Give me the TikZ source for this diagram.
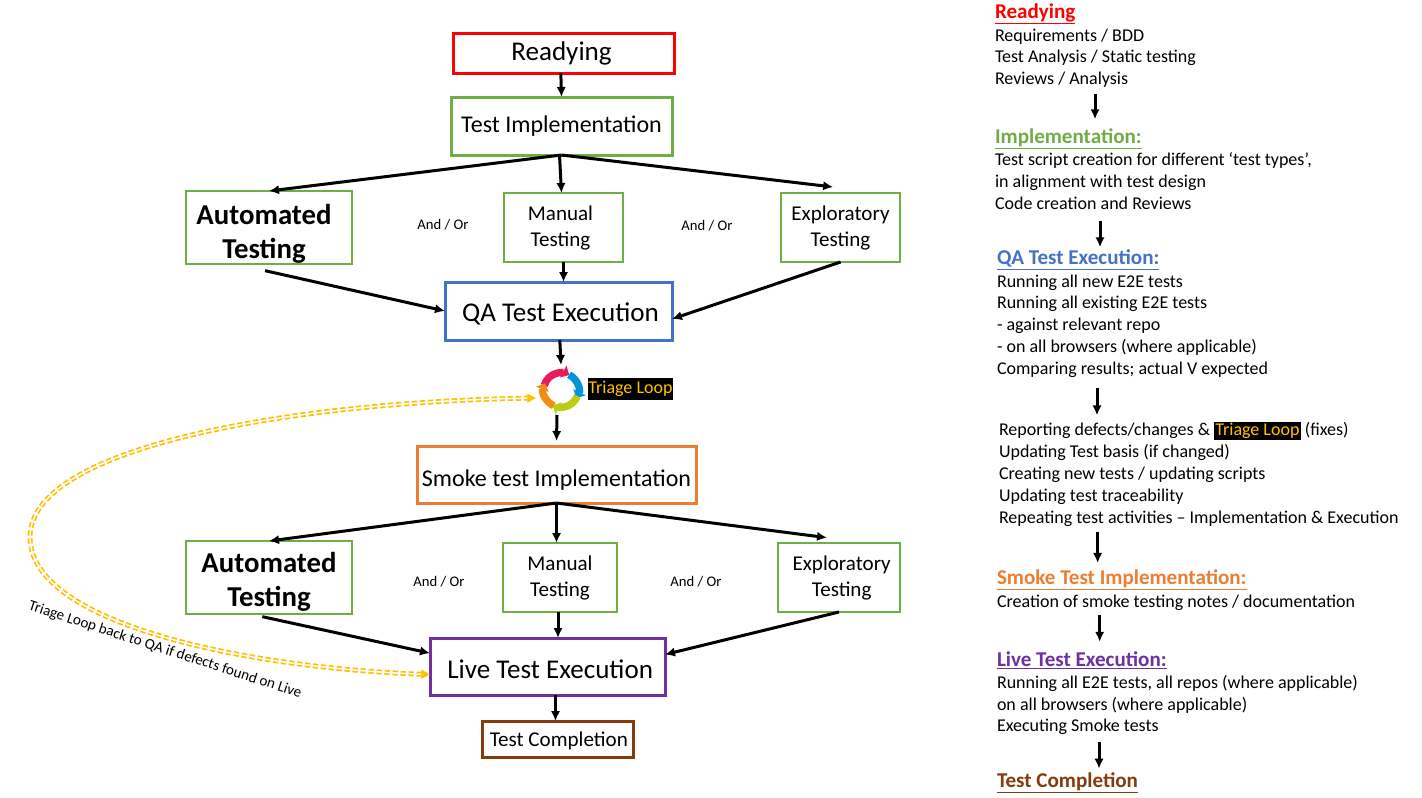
\documentclass[tikz,border=0pt]{standalone}
\usepackage{fontspec}
\setmainfont{Carlito}
\usepackage{tikz}
\usetikzlibrary{arrows.meta,positioning,calc}
\usepackage{xcolor}
\definecolor{StageRed}{RGB}{255,0,0}
\definecolor{StageGreen}{RGB}{112,173,71}
\definecolor{StageBlue}{RGB}{68,114,196}
\definecolor{StageOrange}{RGB}{237,125,49}
\definecolor{StagePurple}{RGB}{112,48,160}
\definecolor{StageBrown}{RGB}{132,60,12}
\definecolor{LoopGold}{RGB}{255,192,0}
\definecolor{RingRed}{RGB}{232,28,88}
\definecolor{RingBlue}{RGB}{0,150,214}
\definecolor{RingLime}{RGB}{186,204,24}
\definecolor{RingOrange}{RGB}{243,140,20}
\newcommand{\FontBig}{\fontsize{20.3}{24}\selectfont}
\newcommand{\FontWide}{\fontsize{18}{24}\selectfont}
\newcommand{\FontMid}{\fontsize{15.8}{19.5}\selectfont}
\newcommand{\FontList}{\fontsize{13.5}{16.4}\selectfont}
\newcommand{\LoopMark}{{\setlength{\fboxsep}{1pt}\colorbox{black}{\textcolor{LoopGold}{Triage Loop}}}}
\newcommand{\StageHead}[2]{{\fontsize{15.8}{18}\selectfont\bfseries\textcolor{#1}{\underline{#2}}}}

\begin{document}
\begin{tikzpicture}[x=.75pt,y=-.75pt,>={Latex[length=7.5pt,width=7pt]},
 flow/.style={->,line width=2.25pt},
 stagebox/.style={draw,line width=2.25pt,inner sep=1pt,outer sep=0pt,align=center,font=\FontBig},
 typebox/.style={draw=StageGreen,line width=1.5pt,inner sep=1pt,outer sep=0pt,align=center,font=\FontMid,minimum height=51.75pt},
 autobox/.style={typebox,font=\fontsize{21.6}{25.5}\selectfont\bfseries,minimum width=124.5pt,minimum height=54.75pt,text depth=0pt},
 choice/.style={font=\fontsize{11}{12}\selectfont},
 notes/.style={anchor=north west,inner sep=0pt,outer sep=0pt,align=left,font=\FontList},
 head/.style={anchor=west,inner sep=0pt,outer sep=0pt},
 loopline/.style={<->,>={Triangle[length=6.5pt,width=6.5pt]},draw=LoopGold,line width=1.3pt,double=white,double distance=1.1pt,dash pattern=on 4pt off 2pt}]
\useasboundingbox (0,0) rectangle (1422,797);
\node[stagebox,draw=StageRed,minimum width=165.75pt,minimum height=30pt] (ready) at (563.5,53) {Readying\hspace*{3pt}};
\node[stagebox,draw=StageGreen,minimum width=165.75pt,minimum height=43.5pt,font=\FontWide] (impl) at (561.5,126) {Test Implementation};
\node[autobox] (auto) at (269,227.5) {\rule{0pt}{21pt}Automated\hspace*{7.5pt}\\Testing\hspace*{7.5pt}};
\node[typebox,minimum width=89.25pt] (manual) at (563.5,227.5) {Manual\hspace*{4.5pt}\\Testing\hspace*{4.5pt}};
\node[typebox,minimum width=89.25pt] (explore) at (840.5,227.5) {Exploratory\\Testing};
\node[choice] (andor) at (443,225) {And / Or};
\node[choice] (andorb) at (707,226) {And / Or};
\node[stagebox,draw=StageBlue,minimum width=170.25pt,minimum height=43.5pt,text depth=0pt,text height=16pt] (qa) at (558.5,311) {\hspace*{3pt}QA Test Execution};
\node[minimum size=37.5pt,inner sep=0pt,outer sep=0pt] (triage) at (561,390) {};
\draw[line width=5.5pt,color=RingRed,-{Triangle[length=5pt,width=10pt]}] ([shift={(165:13pt)}]triage.center) arc[start angle=165,end angle=62,radius=13pt];
\draw[line width=5.5pt,color=RingBlue,-{Triangle[length=5pt,width=10pt]}] ([shift={(62:13pt)}]triage.center) arc[start angle=62,end angle=-28,radius=13pt];
\draw[line width=5.5pt,color=RingLime,-{Triangle[length=5pt,width=10pt]}] ([shift={(-20:13pt)}]triage.center) arc[start angle=-20,end angle=-118,radius=13pt];
\draw[line width=5.5pt,color=RingOrange,-{Triangle[length=5pt,width=10pt]}] ([shift={(-115:13pt)}]triage.center) arc[start angle=-115,end angle=-203,radius=13pt];
\node[fill=black,text=LoopGold,font=\FontList,inner sep=0pt,minimum width=63.75pt,minimum height=16.5pt] (triagelabel) at (630.5,389) {Triage Loop};
\node[stagebox,draw=StageOrange,minimum width=209.25pt,minimum height=42.75pt,font=\FontWide,text depth=0pt,text height=17.5pt] (smoke) at (556.5,474.5) {Smoke test Implementation};
\node[autobox] (autob) at (269,577.5) {\rule{0pt}{18pt}Automated\\Testing};
\node[typebox,minimum width=85.5pt] (manualb) at (560,577.5) {Manual\\Testing};
\node[typebox,minimum width=91.5pt] (exploreb) at (839,577.5) {\hspace*{4pt}Exploratory\\\hspace*{4pt}Testing};
\node[choice] (andorc) at (439,582) {And / Or};
\node[choice] (andord) at (696,582) {And / Or};
\node[stagebox,draw=StagePurple,minimum width=176.25pt,minimum height=42.75pt,text depth=0pt,text height=18pt] (live) at (547.5,666.5) {\hspace*{4pt}Live Test Execution};
\node[stagebox,draw=StageBrown,minimum width=113.25pt,minimum height=27pt,font=\FontMid,text depth=0pt] (done) at (557.5,739) {\hspace*{2pt}Test Completion};
\draw[flow] ([xshift=-2pt]ready.south) -- (impl.north);
\draw[flow] (impl.south) -- (auto.north);
\draw[flow] ([xshift=-1.5pt]impl.south) -- (manual.north -| impl.south);
\draw[flow] (impl.south) -- ([xshift=-5.5pt,yshift=4.5pt]explore.north);
\draw[flow] (manual.south) -- (manual.south |- qa.north);
\draw[flow] ([xshift=-3pt,yshift=-5pt]auto.south) -- (qa.west);
\draw[flow] (explore.south) -- ([yshift=-6pt]qa.east);
\draw[flow] ([xshift=1pt]qa.south) -- (triage.north);
\draw[flow] ([xshift=-3pt]triage.south) -- ([yshift=3.75pt]smoke.north);
\draw[flow] (smoke.south) -- (autob.north);
\draw[flow] (smoke.south) -- (manualb.north -| smoke.south);
\draw[flow] (smoke.south) -- ([xshift=-9pt,yshift=4pt]exploreb.north);
\draw[flow] ([xshift=-5pt,yshift=-2pt]autob.south) -- ([yshift=10pt]live.west);
\draw[flow] ([xshift=-1.5pt]manualb.south) -- ([xshift=-1.5pt]manualb.south |- live.north);
\draw[flow] (exploreb.south) -- ([yshift=9pt]live.east);
\draw[flow] ([xshift=6pt]live.south) -- ([xshift=6pt]live.south |- done.north);
\draw[loopline] ([yshift=-6pt]live.west) .. controls (250,668) and (30,625) .. (30,537) .. controls (30,445) and (300,402) .. ([yshift=-6pt]triage.west);
\node[rotate=-18,font=\fontsize{11.3}{12}\selectfont,inner sep=0pt] (looptext) at (165,650) {Triage Loop back to QA if defects found on Live};
\node[head] (rready) at (995,14) {\StageHead{StageRed}{Readying}};
\node[notes] (rreadylist) at (995,28.5) {Requirements / BDD\\Test Analysis / Static testing\\Reviews / Analysis};
\node[head] (rimpl) at (995,139) {\StageHead{StageGreen}{Implementation:}};
\node[notes] (rimpllist) at (995,153) {Test script creation for different ‘test types’,\\in alignment with test design\\Code creation and Reviews};
\node[head] (rqa) at (997,260) {\StageHead{StageBlue}{QA Test Execution:}};
\node[notes] (rqalist) at (997,274.5) {Running all new E2E tests\\Running all existing E2E tests\\- against relevant repo\\- on all browsers (where applicable)\\Comparing results; actual V expected};
\node[notes] (rfix) at (999,422) {Reporting defects/changes \& \LoopMark{} (fixes)\\Updating Test basis (if changed)\\Creating new tests / updating scripts\\Updating test traceability\\Repeating test activities – Implementation \& Execution};
\node[head] (rsmoke) at (997,580) {\StageHead{StageOrange}{Smoke Test Implementation:}};
\node[notes] (rsmokelist) at (997,595) {Creation of smoke testing notes / documentation};
\node[head] (rlive) at (997,660) {\StageHead{StagePurple}{Live Test Execution:}};
\node[notes] (rlivelist) at (997,675) {Running all E2E tests, all repos (where applicable)\\on all browsers (where applicable)\\Executing Smoke tests};
\node[head] (rdone) at (997,783) {\StageHead{StageBrown}{Test Completion}};
\draw[flow,shorten <=5pt,shorten >=7pt] ([xshift=75pt]rreadylist.south west) -- ([xshift=75pt]rreadylist.south west |- rimpl.north);
\draw[flow,shorten <=8.5pt,shorten >=2pt] ([xshift=78.75pt]rimpllist.south west) -- ([xshift=78.75pt]rimpllist.south west |- rqa.north);
\draw[flow,shorten <=8pt,shorten >=5pt] ([xshift=75pt]rqalist.south west) -- ([xshift=75pt]rqalist.south west |- rfix.north);
\draw[flow,shorten <=4pt,shorten >=5pt] ([xshift=74pt]rfix.south west) -- ([xshift=74pt]rfix.south west |- rsmoke.north);
\draw[flow,shorten <=3pt,shorten >=7pt] ([xshift=77pt]rsmokelist.south west) -- ([xshift=77pt]rsmokelist.south west |- rlive.north);
\draw[flow,shorten <=5pt,shorten >=3pt] ([xshift=76.5pt]rlivelist.south west) -- ([xshift=76.5pt]rlivelist.south west |- rdone.north);
\end{tikzpicture}
\end{document}
